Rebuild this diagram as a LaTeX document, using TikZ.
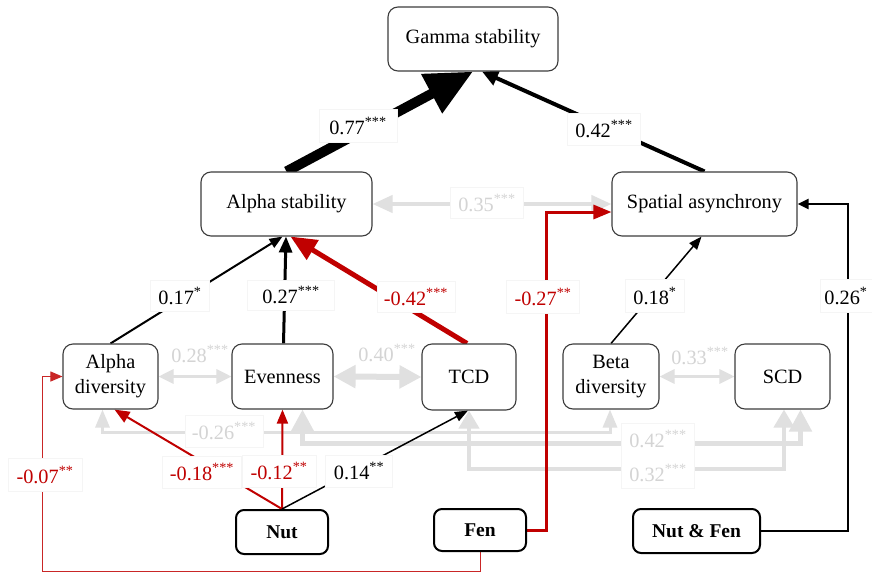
\documentclass[tikz,border=0pt]{standalone}
\usepackage{fontspec}
\setmainfont{Liberation Serif}
\usetikzlibrary{arrows.meta,calc}
\definecolor{myred}{RGB}{192,0,0}
\definecolor{lgline}{RGB}{224,224,224}
\definecolor{lgtext}{RGB}{212,212,212}
\definecolor{boxedge}{RGB}{245,245,245}
\definecolor{nodeedge}{RGB}{60,60,60}
\pgfdeclarelayer{back}
\pgfdeclarelayer{bg}
\pgfsetlayers{back,bg,main}
\begin{document}
\begin{tikzpicture}[x=1pt,y=-1pt,
  box/.style={draw=nodeedge,line width=1.1pt,rounded corners=10pt,fill=white,align=center,font=\fontsize{20.3}{25}\selectfont,inner sep=0pt},
  dbox/.style={draw=black,line width=2pt,rounded corners=8pt,fill=white,font=\fontsize{19.5}{24}\selectfont\bfseries,inner sep=0pt},
  lab/.style={fill=white,draw=boxedge,line width=0.6pt,inner sep=0pt,align=center,font=\fontsize{20.3}{25}\selectfont},
  glab/.style={text=lgtext,inner sep=0pt,font=\fontsize{20.3}{25}\selectfont},
  gline/.style={draw=lgline},
]
\begin{pgfonlayer}{back}
\fill[white] (0,0) rectangle (872,573);
\end{pgfonlayer}
\useasboundingbox (0,0) rectangle (872,573);

% main nodes
\node[box,minimum width=170pt,minimum height=64pt] (gamma) at (473,39) {Gamma stability};
\node[box,minimum width=171pt,minimum height=64pt] (astab) at (286.5,204) {Alpha stability};
\node[box,minimum width=185pt,minimum height=64pt] (spat) at (704.5,204) {Spatial asynchrony};
\node[box,minimum width=95pt,minimum height=65pt] (adiv) at (110.5,376.5) {Alpha\\diversity};
\node[box,minimum width=101pt,minimum height=65pt] (even) at (282.5,376.5) {Evenness};
\node[box,minimum width=94pt,minimum height=66pt] (tcd) at (469,377) {TCD};
\node[box,minimum width=96pt,minimum height=65pt] (bdiv) at (611,376.5) {Beta\\diversity};
\node[box,minimum width=95pt,minimum height=65pt] (scd) at (782.5,376.5) {SCD};
\node[dbox,minimum width=92pt,minimum height=44pt] (nut) at (282,532) {Nut};
\node[dbox,minimum width=92pt,minimum height=42pt] (fen) at (480,530) {Fen};
\node[dbox,minimum width=127pt,minimum height=44pt] (nf) at (696.5,531) {Nut \& Fen};

\begin{pgfonlayer}{bg}
% grey correlations
\draw[gline,line width=4pt,{Triangle[length=20pt,width=17pt]}-{Triangle[length=20pt,width=17pt]}] (astab.east) -- (spat.west);
\draw[gline,line width=3pt,{Triangle[length=15pt,width=14pt]}-{Triangle[length=15pt,width=14pt]}] (adiv.east) -- (even.west);
\draw[gline,line width=6pt,{Triangle[length=22pt,width=22pt]}-{Triangle[length=22pt,width=22pt]}] (even.east) -- (tcd.west);
\draw[gline,line width=3pt,{Triangle[length=15pt,width=14pt]}-{Triangle[length=15pt,width=14pt]}] (bdiv.east) -- (scd.west);
\draw[gline,line width=3pt,{Triangle[length=18pt,width=14pt]}-{Triangle[length=18pt,width=14pt]}] ($(adiv.south)+(-8,0)$) -- ++(0,23) -| ($(bdiv.south)+(-1,0)$);
\draw[gline,line width=5pt,{Triangle[length=22pt,width=22pt]}-{Triangle[length=22pt,width=22pt]}] ($(even.south)+(20,0)$) -- ++(0,34) -| ($(scd.south)+(18,0)$);
\draw[gline,line width=4pt,{Triangle[length=18pt,width=20pt]}-{Triangle[length=18pt,width=20pt]}] (tcd.south) -- ++(0,58) -| ($(scd.south)+(1.5,0)$);

% paths
\draw[line width=10pt,-{Triangle[length=47pt,width=42pt]}] (astab.north) -- (gamma.south);
\draw[line width=4pt,-{Triangle[length=16pt,width=15pt]}] (spat.north) -- ($(gamma.south)+(9,0)$);
\draw[line width=2pt,-{Triangle[length=13pt,width=10pt]}] (adiv.north) -- ($(astab.south)+(-4,0)$);
\draw[line width=3pt,-{Triangle[length=16pt,width=13pt]}] ($(even.north)+(1,0)$) -- ($(astab.south)+(-0.5,0)$);
\draw[myred,line width=5pt,-{Triangle[length=26pt,width=22pt]}] ($(tcd.north)+(-2,0)$) -- ($(astab.south)+(4,0)$);
\draw[line width=1.5pt,-{Triangle[length=13pt,width=10pt]}] (bdiv.north) -- ($(spat.south)+(-3,0)$);
\draw[myred,line width=2pt,-{Triangle[length=15pt,width=12pt]}] (nut.north) -- ($(adiv.south)+(4,0)$);
\draw[myred,line width=2pt,-{Triangle[length=14pt,width=11pt]}] (nut.north) -- (even.south);
\draw[line width=1.5pt,-{Triangle[length=13pt,width=10pt]}] (nut.north) -- ($(tcd.south)+(-1,0)$);
\draw[myred,line width=3pt,-{Triangle[length=18pt,width=14pt]}] (fen.east) -- ++(19,0) |- ($(spat.west)+(0,8)$);
\draw[line width=2.5pt,-{Triangle[length=11pt,width=10pt]}] (nf.east) -- ++(87,0) |- (spat.east);
\draw[myred!85,line width=1pt,-{Triangle[length=12pt,width=10pt]}] (fen.south) -- ++(0,19) -| ($(adiv.west)+(-20,0)$) -- (adiv.west);
\end{pgfonlayer}

% labels
\node[lab,minimum width=78pt,minimum height=33pt] (l77) at (358,126) {0.77\textsuperscript{***}};
\node[lab,minimum width=73pt,minimum height=32pt] (l42a) at (604,129) {0.42\textsuperscript{***}};
\node[lab,text=lgtext,minimum width=73pt,minimum height=31pt] (l35) at (487,203) {0.35\textsuperscript{***}};
\node[lab,minimum width=59pt,minimum height=31pt] (l17) at (180,296) {0.17\textsuperscript{*}};
\node[lab,minimum width=87pt,minimum height=30pt] (l27) at (291,295) {0.27\textsuperscript{***}};
\node[lab,text=myred,minimum width=78pt,minimum height=31pt] (l42r) at (416,297) {-0.42\textsuperscript{***}};
\node[lab,text=myred,minimum width=73pt,minimum height=33pt] (l27r) at (543,297) {-0.27\textsuperscript{**}};
\node[lab,minimum width=59pt,minimum height=33pt] (l18) at (655,296) {0.18\textsuperscript{*}};
\node[lab,minimum width=52pt,minimum height=33pt] (l26) at (846,296) {0.26\textsuperscript{*}};
\node[glab] (l28) at (200,354) {0.28\textsuperscript{***}};
\node[glab] (l40) at (387,353) {0.40\textsuperscript{***}};
\node[glab] (l33) at (700,356) {0.33\textsuperscript{***}};
\node[lab,text=lgtext,minimum width=78pt,minimum height=32pt] (l26g) at (224,431) {-0.26\textsuperscript{***}};
\node[lab,text=lgtext,minimum width=73pt,minimum height=65pt,font=\fontsize{20.3}{34}\selectfont] (l4232) at (658,456) {0.42\textsuperscript{***}\\0.32\textsuperscript{***}};
\node[lab,text=myred,minimum width=74pt,minimum height=33pt] (l07) at (45,475) {-0.07\textsuperscript{**}};
\node[lab,text=myred,minimum width=79pt,minimum height=32pt] (l18r) at (202,472) {-0.18\textsuperscript{***}};
\node[lab,text=myred,minimum width=74pt,minimum height=32pt] (l12r) at (279,471) {-0.12\textsuperscript{**}};
\node[lab,minimum width=67pt,minimum height=32pt] (l14) at (359,471) {0.14\textsuperscript{**}};
\end{tikzpicture}
\end{document}
